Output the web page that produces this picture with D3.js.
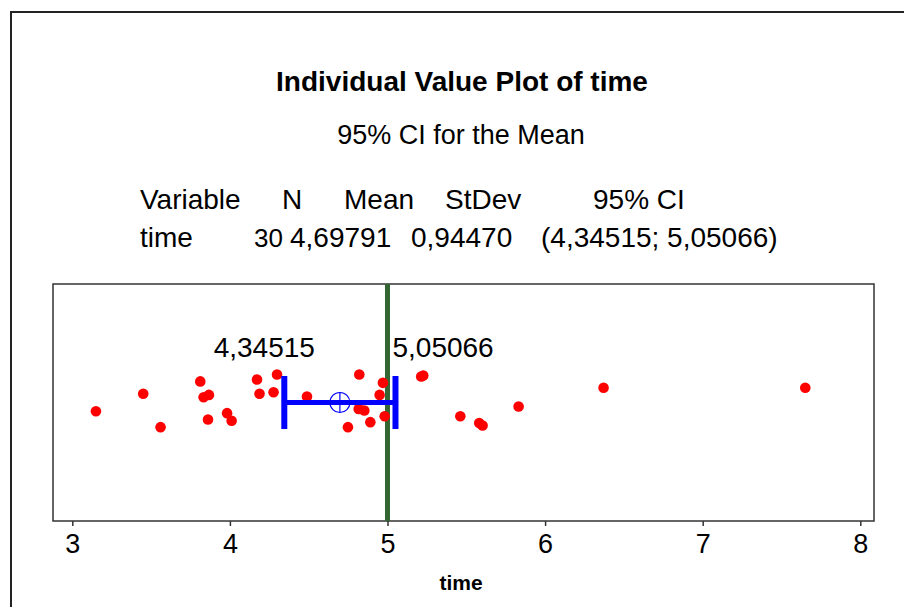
<!DOCTYPE html>
<html>
<head>
<meta charset="utf-8">
<script src="https://cdn.jsdelivr.net/npm/d3@7"></script>
<style>
	body { margin: 0; background: #fff; }
	svg text { font-family: "Liberation Sans", Arial, sans-serif; fill: #000; }
</style>
</head>
<body>
<svg id="chart" width="904" height="607"></svg>
<script>
// values, sorted
var times = [3.150, 3.450, 3.560, 3.812, 3.833, 3.861, 3.867, 3.982, 4.011, 4.172,
	4.188, 4.277, 4.299, 4.489, 4.749, 4.817, 4.821, 4.853, 4.891, 4.950,
	4.971, 4.982, 5.214, 5.227, 5.462, 5.582, 5.603, 5.832, 6.371, 7.651];
// vertical jitter of each point around the group (in y units)
var jitter = [-0.037, 0.037, -0.104, 0.089, 0.022, -0.072, 0.032, -0.045, -0.077, 0.097,
	0.037, 0.043, 0.118, 0.025, -0.104, -0.027, 0.118, -0.034, -0.083, 0.032,
	0.083, -0.058, 0.110, 0.114, -0.058, -0.087, -0.097, -0.017, 0.062, 0.062];
var xTicks = [3, 4, 5, 6, 7, 8];
var stats = { n: 30, mean: 4.69791, stdev: 0.94470, lo: 4.34515, hi: 5.05066 };
var refLine = 5;
var tableHeader = ["Variable", "N", "Mean", "StDev", "95% CI"];
var tableRow = ["time", "30", "4,69791", "0,94470", "(4,34515; 5,05066)"];

var fmt = function(v) { return v.toFixed(5).replace(".", ","); };

var svg = d3.select("#chart");

// outer frame, runs off the right and bottom edge
svg.append("rect")
	.attr("x", 11).attr("y", 12)
	.attr("width", 1000).attr("height", 1000)
	.attr("fill", "#fff")
	.attr("stroke", "#222").attr("stroke-width", 2);

var box = {left: 53, right: 874, top: 284, bottom: 521};

var x = d3.scaleLinear()
	.domain([2.8775, 8.087])
	.range([box.left, box.right]);
var y = d3.scaleLinear()
	.domain([0, 1])
	.range([box.bottom, box.top]);
var groupPos = 0.5;

// titles
svg.append("text")
	.attr("x", 462).attr("y", 91)
	.attr("text-anchor", "middle")
	.attr("font-size", 28).attr("font-weight", "bold")
	.text("Individual Value Plot of time");
svg.append("text")
	.attr("x", 461).attr("y", 144)
	.attr("text-anchor", "middle")
	.attr("font-size", 27)
	.text("95% CI for the Mean");

// summary table
var colX = [140, 282, 344, 445, 593];
var rowX = [140, 254, 290, 411, 541];
svg.selectAll(".th")
	.data(tableHeader)
	.enter().append("text")
	.attr("class", "th")
	.attr("x", function(d, i) { return colX[i]; })
	.attr("y", 209)
	.attr("font-size", 28)
	.text(function(d) { return d; });
svg.selectAll(".td")
	.data(tableRow)
	.enter().append("text")
	.attr("class", "td")
	.attr("x", function(d, i) { return rowX[i]; })
	.attr("y", 247)
	.attr("font-size", function(d, i) { return i == 1 ? 26 : 28; })
	.text(function(d) { return d; });

var g = svg.append("g");

// plot box
g.append("rect")
	.attr("x", box.left).attr("y", box.top)
	.attr("width", box.right - box.left).attr("height", box.bottom - box.top)
	.attr("fill", "#fff")
	.attr("stroke", "#333").attr("stroke-width", 1.5);

// x axis
var axis = g.append("g")
	.attr("transform", "translate(0," + box.bottom + ")")
	.call(d3.axisBottom(x).tickValues(xTicks).tickSize(5).tickPadding(8).tickFormat(d3.format("d")));
axis.select(".domain").remove();
axis.selectAll(".tick line").attr("stroke", "#333").attr("stroke-width", 1.5);
axis.selectAll(".tick text")
	.attr("font-size", 27)
	.attr("font-family", "'Liberation Sans', Arial, sans-serif")
	.attr("fill", "#000");

svg.append("text")
	.attr("x", 461).attr("y", 590)
	.attr("text-anchor", "middle")
	.attr("font-size", 21).attr("font-weight", "bold")
	.text("time");

// reference line
g.append("line")
	.attr("x1", x(refLine)).attr("x2", x(refLine))
	.attr("y1", box.top).attr("y2", box.bottom)
	.attr("stroke", "#336633").attr("stroke-width", 5);

// individual values
g.selectAll(".pt")
	.data(times)
	.enter().append("circle")
	.attr("class", "pt")
	.attr("cx", function(d) { return x(d); })
	.attr("cy", function(d, i) { return y(groupPos + jitter[i]); })
	.attr("r", 5.3)
	.attr("fill", "#ff0000");

// confidence interval
var cy = y(groupPos);
g.append("line")
	.attr("x1", x(stats.lo)).attr("x2", x(stats.hi))
	.attr("y1", cy).attr("y2", cy)
	.attr("stroke", "#0000ff").attr("stroke-width", 5);
[stats.lo, stats.hi].forEach(function(v) {
	g.append("line")
		.attr("x1", x(v)).attr("x2", x(v))
		.attr("y1", cy - 26.5).attr("y2", cy + 26.5)
		.attr("stroke", "#0000ff").attr("stroke-width", 6);
});

// mean symbol
var mx = x(stats.mean);
g.append("circle")
	.attr("cx", mx).attr("cy", cy).attr("r", 10)
	.attr("fill", "none")
	.attr("stroke", "#0000ff").attr("stroke-width", 1.2);
g.append("line")
	.attr("x1", mx).attr("x2", mx)
	.attr("y1", cy - 10).attr("y2", cy + 10)
	.attr("stroke", "#0000ff").attr("stroke-width", 1.2);

// interval labels
svg.append("text")
	.attr("x", x(stats.lo) - 20).attr("y", 357)
	.attr("text-anchor", "middle")
	.attr("font-size", 28)
	.text(fmt(stats.lo));
svg.append("text")
	.attr("x", x(stats.hi) - 3).attr("y", 357)
	.attr("text-anchor", "start")
	.attr("font-size", 28)
	.text(fmt(stats.hi));
</script>
</body>
</html>
